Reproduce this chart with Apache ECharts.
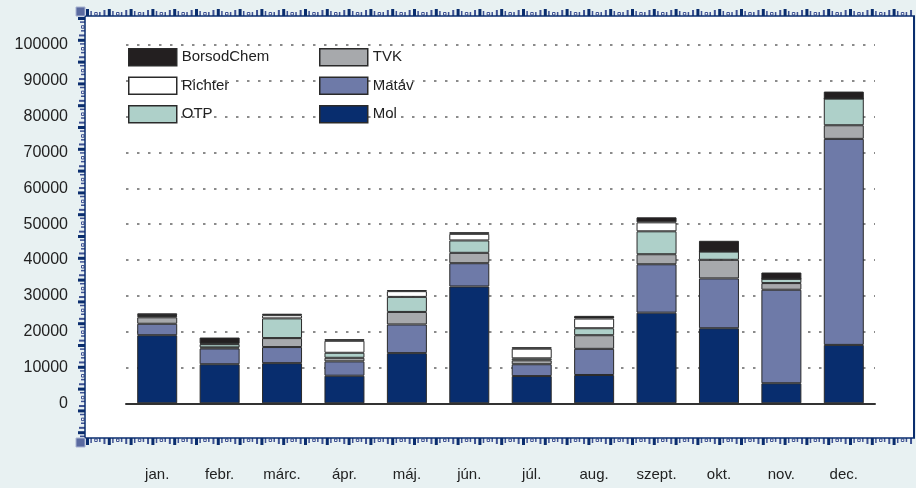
<!DOCTYPE html>
<html>
<head>
<meta charset="utf-8">
<script src="https://cdn.jsdelivr.net/npm/echarts@6/dist/echarts.min.js"></script>
<style>html,body{margin:0;padding:0;background:#e8f1f2;}#c{width:916px;height:488px;}</style>
</head>
<body>
<div id="c"></div>
<script>
const categories = ['jan.','febr.','márc.','ápr.','máj.','jún.','júl.','aug.','szept.','okt.','nov.','dec.'];
const mol        = [19000, 10900, 11200, 7700, 14000, 32600, 7600, 7900, 25300, 20950, 5600, 16300];
const matav      = [3200, 4400, 4500, 4000, 8000, 6500, 3300, 7300, 13500, 13900, 26100, 57500];
const tvk        = [1800, 300, 2500, 1000, 3500, 2900, 1100, 3800, 2800, 5200, 1850, 3800];
const otp        = [400, 900, 5500, 1400, 4200, 3450, 550, 1950, 6400, 2300, 1200, 7450];
const richter    = [200, 200, 900, 3350, 1600, 1850, 2700, 2700, 2500, 0, 0, 0];
const borsodchem = [500, 1650, 400, 450, 300, 450, 400, 750, 1400, 3000, 1750, 1950];

const seriesDefs = [
  {name: 'Mol', data: mol, color: '#082d6e'},
  {name: 'Matáv', data: matav, color: '#6e7aa8'},
  {name: 'TVK', data: tvk, color: '#a7a9ac'},
  {name: 'OTP', data: otp, color: '#aed0c9'},
  {name: 'Richter', data: richter, color: '#ffffff'},
  {name: 'BorsodChem', data: borsodchem, color: '#231f20'}
];

// decorative ruler frame
const NAVY = '#0a2d6e', NAVY2 = '#3d5192';
const graphics = [];
graphics.push({type:'rect', z:-10, shape:{x:85,y:16,width:829,height:422}, style:{fill:'#ffffff'}});
function ruler(dir) {
  const period = 21.8, step = period / 5;
  const pattern = [
    {w:3, h:7, c:NAVY}, {w:1.5, h:5, c:NAVY2}, {w:2.5, h:2.5, c:NAVY2, box:true}, {w:1.5, h:4, c:NAVY2}, {w:2, h:6, c:NAVY2}
  ];
  let len = (dir === 'left') ? 422 : 829;
  for (let i = 0; i * step < len - 2; i++) {
    const p = pattern[i % 5];
    const pos = i * step;
    let shape;
    if (dir === 'top') shape = {x: 86 + pos, y: 16 - p.h - (p.box ? 1 : 0), width: p.w, height: p.h};
    else if (dir === 'bottom') shape = {x: 86 + pos, y: 438 + (p.box ? 1 : 0), width: p.w, height: p.h};
    else shape = {x: 85 - p.h - (p.box ? 1 : 0), y: 17 + pos, width: p.h, height: p.w};
    graphics.push({type:'rect', shape: shape, style: p.box ? {fill:'#ffffff', stroke:p.c, lineWidth:1} : {fill:p.c}});
  }
}
ruler('top'); ruler('bottom'); ruler('left');
graphics.push({type:'line', shape:{x1:85,y1:16,x2:915,y2:16}, style:{stroke:NAVY,lineWidth:1.5}});
graphics.push({type:'line', shape:{x1:85,y1:438,x2:915,y2:438}, style:{stroke:NAVY,lineWidth:1.5}});
graphics.push({type:'line', shape:{x1:85,y1:16,x2:85,y2:438}, style:{stroke:NAVY,lineWidth:1.5}});
graphics.push({type:'line', shape:{x1:914,y1:16,x2:914,y2:438}, style:{stroke:NAVY,lineWidth:2}});
graphics.push({type:'rect', shape:{x:76,y:7,width:9,height:9}, style:{fill:'#5a6aa0', stroke:'#a9b4d2', lineWidth:1}});
graphics.push({type:'rect', shape:{x:76,y:438,width:9,height:9}, style:{fill:'#5a6aa0', stroke:'#a9b4d2', lineWidth:1}});

const chart = echarts.init(document.getElementById('c'), null, {renderer:'canvas'});
const legendCommon = {
  orient: 'vertical', icon: 'rect', itemWidth: 48, itemHeight: 17, itemGap: 10, padding: 0,
  textStyle: {fontFamily: 'Liberation Sans', fontSize: 15, color: '#222'},
  itemStyle: {borderColor: '#2a2a2a', borderWidth: 1.5},
  selectedMode: false
};
chart.setOption({
  backgroundColor: '#e8f1f2',
  animation: false,
  graphic: graphics,
  legend: [
    Object.assign({}, legendCommon, {left: 128, top: 48, data: ['BorsodChem', 'Richter', 'OTP']}),
    Object.assign({}, legendCommon, {left: 319, top: 48, data: ['TVK', 'Matáv', 'Mol']})
  ],
  grid: {left: 126, width: 749, top: 45, bottom: 84.7, containLabel: false},
  xAxis: {
    type: 'category', data: categories,
    axisLine: {show: true, lineStyle: {color: '#333', width: 2}},
    axisTick: {show: false},
    axisLabel: {margin: 64, fontFamily: 'Liberation Sans', fontSize: 15, color: '#222'},
    splitLine: {show: false}
  },
  yAxis: {
    type: 'value', min: 0, max: 100000, interval: 10000,
    axisLine: {show: false}, axisTick: {show: false},
    axisLabel: {margin: 58, fontFamily: 'Liberation Sans', fontSize: 16, color: '#222', formatter: v => String(v)},
    splitLine: {show: true, lineStyle: {color: '#666', width: 1.5, type: [2.5, 8.5]}}
  },
  series: seriesDefs.map(s => ({
    name: s.name, type: 'bar', stack: 'total', data: s.data, barWidth: 40,
    itemStyle: {color: s.color, borderColor: '#2a2a2a', borderWidth: 1}
  }))
});
</script>
</body>
</html>
